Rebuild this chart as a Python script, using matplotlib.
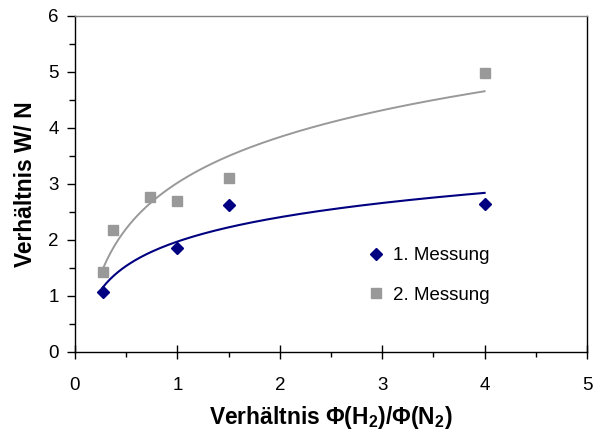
import numpy as np
import matplotlib.pyplot as plt

plt.rcParams['font.family'] = ['Liberation Sans', 'DejaVu Sans']
plt.rcParams['mathtext.fontset'] = 'custom'
plt.rcParams['mathtext.rm'] = 'Liberation Sans'
plt.rcParams['mathtext.bf'] = 'Liberation Sans:bold'

# Messwerte: Verhältnis Phi(H2)/Phi(N2) gegen Verhältnis W/N
x1 = [0.27, 1.0, 1.5, 4.0]
y1 = [1.07, 1.85, 2.62, 2.65]

x2 = [0.27, 0.37, 0.73, 1.0, 1.5, 4.0]
y2 = [1.42, 2.18, 2.76, 2.70, 3.11, 4.98]

labels = ['1. Messung', '2. Messung']
xticks = [0, 1, 2, 3, 4, 5]
yticks = [0, 1, 2, 3, 4, 5, 6]

navy = '#000080'
grau = '#999999'


def log_trend(x, y):
    # logarithmische Trendlinie y = a*ln(x) + b
    a, b = np.polyfit(np.log(x), y, 1)
    xx = np.linspace(min(x), max(x), 200)
    return xx, a * np.log(xx) + b


fig = plt.figure(figsize=(5.93, 4.30), dpi=100)
ax = fig.add_axes([75/593, 1 - 352/430, 512/593, 336/430])

xx1, yy1 = log_trend(x1, y1)
xx2, yy2 = log_trend(x2, y2)
ax.plot(xx2, yy2, color='#999999', lw=1.4, zorder=2)
ax.plot(xx1, yy1, color=navy, lw=1.5, zorder=2)

ax.plot(x1, y1, 'D', color=navy, ms=6.3, ls='none', label=labels[0], zorder=4)
ax.plot(x2, y2, 's', color=grau, ms=7.8, ls='none', label=labels[1], zorder=3)

ax.set_xlim(0, 5)
ax.set_ylim(0, 6)
ax.set_xticks(xticks)
ax.set_yticks(yticks)
ax.set_xticks(np.arange(0.5, 5, 1), minor=True)
ax.set_yticks(np.arange(0.5, 6, 1), minor=True)

ax.tick_params(axis='x', which='major', direction='inout', length=10, width=1,
               pad=13, labelsize=13.5)
ax.tick_params(axis='x', which='minor', direction='out', length=3.6, width=1)
ax.tick_params(axis='y', which='major', direction='out', length=5.8, width=1,
               pad=6, labelsize=13.5)
ax.tick_params(axis='y', which='minor', direction='out', length=4.3, width=1)

for s in ['left', 'bottom', 'right']:
    ax.spines[s].set_color('black')
    ax.spines[s].set_linewidth(1.0)
ax.spines['top'].set_color('#808080')
ax.spines['top'].set_linewidth(1.0)

ax.set_xlabel(r'Verhältnis $\mathbf{\Phi}$(H$_\mathbf{2}$)/$\mathbf{\Phi}$(N$_\mathbf{2}$)',
              fontsize=16.4, fontweight='bold', labelpad=7)
ax.set_ylabel('Verhältnis W/ N', fontsize=16.4, fontweight='bold', labelpad=8)

ax.legend(loc='upper left', bbox_to_anchor=(0.555, 0.335), frameon=False,
          fontsize=13.5, numpoints=1, handlelength=1.0, handletextpad=0.4,
          labelspacing=1.2, borderaxespad=0)

fig.savefig('out.png', dpi=100)
